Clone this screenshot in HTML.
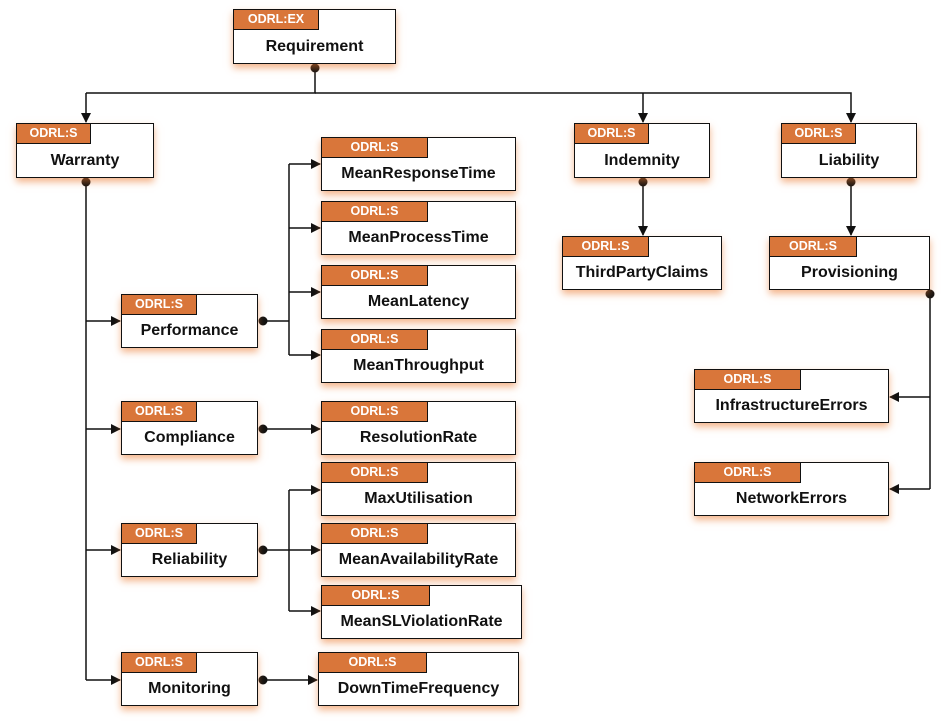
<!DOCTYPE html>
<html><head><meta charset="utf-8"><style>
body{margin:0;background:#fff;width:945px;height:727px;position:relative;overflow:hidden;font-family:"Liberation Sans",sans-serif}
.b{position:absolute;background:#fff;border:1.5px solid #111;box-sizing:border-box;box-shadow:0 4px 7px rgba(235,120,45,0.55)}
.t{position:absolute;left:0;top:0;height:20px;background:#d9763a;border-right:1.5px solid #111;border-bottom:1.5px solid #111;box-sizing:border-box;color:#fff;font-weight:bold;font-size:12.5px;line-height:18px;text-align:center}
.n{position:absolute;left:0;right:0;top:20px;bottom:0;display:flex;align-items:center;justify-content:center;font-weight:bold;font-size:16px;color:#111;white-space:nowrap}
svg{position:absolute;left:0;top:0}
</style></head><body>
<svg width="945" height="727">
<defs><marker id="a" markerWidth="10" markerHeight="10" refX="9" refY="5" orient="auto" markerUnits="userSpaceOnUse"><path d="M0,0L10,5L0,10z" fill="#111"/></marker></defs>
<g stroke="#111" stroke-width="1.5" fill="none">
<path d="M315,68V93H86"/><path d="M86,93V122" marker-end="url(#a)"/>
<path d="M315,93H851V122" marker-end="url(#a)"/><path d="M643,93V122" marker-end="url(#a)"/>
<path d="M86,182V680"/>
<path d="M86,321H120" marker-end="url(#a)"/><path d="M86,429H120" marker-end="url(#a)"/>
<path d="M86,550H120" marker-end="url(#a)"/><path d="M86,680H120" marker-end="url(#a)"/>
<path d="M263,321H289"/><path d="M289,164V355"/>
<path d="M289,164H320" marker-end="url(#a)"/><path d="M289,228H320" marker-end="url(#a)"/>
<path d="M289,292H320" marker-end="url(#a)"/><path d="M289,355H320" marker-end="url(#a)"/>
<path d="M263,429H320" marker-end="url(#a)"/>
<path d="M263,550H289"/><path d="M289,490V611"/>
<path d="M289,490H320" marker-end="url(#a)"/><path d="M289,550H320" marker-end="url(#a)"/><path d="M289,611H320" marker-end="url(#a)"/>
<path d="M263,680H317" marker-end="url(#a)"/>
<path d="M643,182V235" marker-end="url(#a)"/><path d="M851,182V235" marker-end="url(#a)"/>
<path d="M930,294V489"/>
<path d="M930,397H890" marker-end="url(#a)"/><path d="M930,489H890" marker-end="url(#a)"/>
</g>
<g fill="#111"><circle cx="315" cy="68" r="4.5"/><circle cx="86" cy="182" r="4.5"/><circle cx="263" cy="321" r="4.5"/><circle cx="263" cy="429" r="4.5"/><circle cx="263" cy="550" r="4.5"/><circle cx="263" cy="680" r="4.5"/><circle cx="643" cy="182" r="4.5"/><circle cx="851" cy="182" r="4.5"/><circle cx="930" cy="294" r="4.5"/></g>
</svg>
<div class="b" style="left:233px;top:9px;width:163px;height:55px"><div class="t" style="width:85px">ODRL:EX</div><div class="n">Requirement</div></div>
<div class="b" style="left:16px;top:123px;width:138px;height:55px"><div class="t" style="width:74px">ODRL:S</div><div class="n">Warranty</div></div>
<div class="b" style="left:321px;top:137px;width:195px;height:54px"><div class="t" style="width:106px">ODRL:S</div><div class="n">MeanResponseTime</div></div>
<div class="b" style="left:321px;top:201px;width:195px;height:54px"><div class="t" style="width:106px">ODRL:S</div><div class="n">MeanProcessTime</div></div>
<div class="b" style="left:321px;top:265px;width:195px;height:54px"><div class="t" style="width:106px">ODRL:S</div><div class="n">MeanLatency</div></div>
<div class="b" style="left:321px;top:329px;width:195px;height:54px"><div class="t" style="width:106px">ODRL:S</div><div class="n">MeanThroughput</div></div>
<div class="b" style="left:121px;top:294px;width:137px;height:54px"><div class="t" style="width:75px">ODRL:S</div><div class="n">Performance</div></div>
<div class="b" style="left:121px;top:401px;width:137px;height:54px"><div class="t" style="width:75px">ODRL:S</div><div class="n">Compliance</div></div>
<div class="b" style="left:321px;top:401px;width:195px;height:54px"><div class="t" style="width:106px">ODRL:S</div><div class="n">ResolutionRate</div></div>
<div class="b" style="left:321px;top:462px;width:195px;height:54px"><div class="t" style="width:106px">ODRL:S</div><div class="n">MaxUtilisation</div></div>
<div class="b" style="left:321px;top:523px;width:195px;height:54px"><div class="t" style="width:106px">ODRL:S</div><div class="n">MeanAvailabilityRate</div></div>
<div class="b" style="left:321px;top:585px;width:201px;height:54px"><div class="t" style="width:108px">ODRL:S</div><div class="n">MeanSLViolationRate</div></div>
<div class="b" style="left:121px;top:523px;width:137px;height:54px"><div class="t" style="width:75px">ODRL:S</div><div class="n">Reliability</div></div>
<div class="b" style="left:121px;top:652px;width:137px;height:54px"><div class="t" style="width:75px">ODRL:S</div><div class="n">Monitoring</div></div>
<div class="b" style="left:318px;top:652px;width:201px;height:54px"><div class="t" style="width:108px">ODRL:S</div><div class="n">DownTimeFrequency</div></div>
<div class="b" style="left:574px;top:123px;width:136px;height:55px"><div class="t" style="width:74px">ODRL:S</div><div class="n">Indemnity</div></div>
<div class="b" style="left:562px;top:236px;width:160px;height:54px"><div class="t" style="width:86px">ODRL:S</div><div class="n">ThirdPartyClaims</div></div>
<div class="b" style="left:781px;top:123px;width:136px;height:55px"><div class="t" style="width:74px">ODRL:S</div><div class="n">Liability</div></div>
<div class="b" style="left:769px;top:236px;width:161px;height:54px"><div class="t" style="width:87px">ODRL:S</div><div class="n">Provisioning</div></div>
<div class="b" style="left:694px;top:369px;width:195px;height:54px"><div class="t" style="width:106px">ODRL:S</div><div class="n">InfrastructureErrors</div></div>
<div class="b" style="left:694px;top:462px;width:195px;height:54px"><div class="t" style="width:106px">ODRL:S</div><div class="n">NetworkErrors</div></div>
</body></html>
